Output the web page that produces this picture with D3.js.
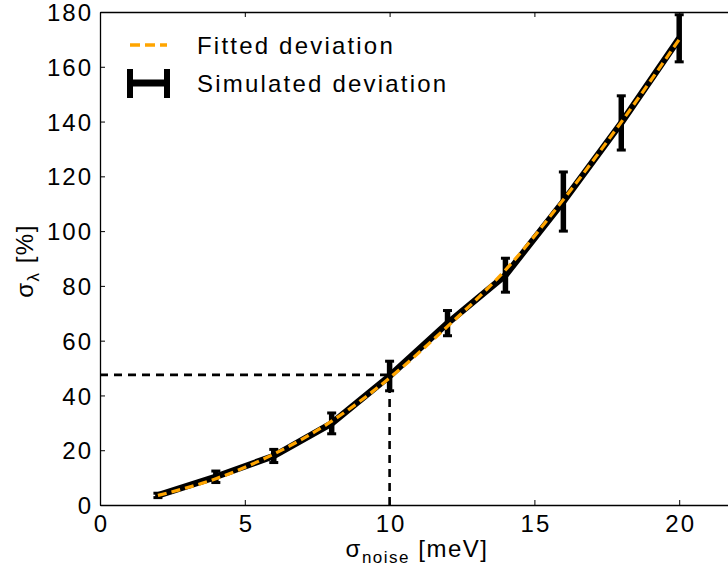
<!DOCTYPE html>
<html>
<head>
<meta charset="utf-8">
<script src="https://cdn.jsdelivr.net/npm/d3@7"></script>
<style>
  html, body { margin: 0; padding: 0; background: #fff; }
  svg text { font-family: "Liberation Sans", Arial, sans-serif; fill: #000; }
</style>
</head>
<body>
<svg id="chart" width="728" height="573"></svg>
<script>
// ---- data ----
const noiseLevels = [2, 4, 6, 8, 10, 12, 14, 16, 18, 20];
const simulatedDeviation = [3.5, 10.3, 17.9, 29.8, 47.1, 66.4, 83.9, 110.8, 139.5, 170.4];
const simulatedError = [0.8, 2.1, 2.4, 3.8, 5.4, 4.6, 6.2, 10.8, 9.9, 8.6];
const fittedDeviation = [3.5, 9.6, 18.6, 30.6, 46.4, 65.2, 85.8, 111.5, 139.8, 170.0];
const xTicks = [0, 5, 10, 15, 20];
const yTicks = [0, 20, 40, 60, 80, 100, 120, 140, 160, 180];
const markerX = [10];
const markerY = [47.5];
const legendLabels = ["Fitted deviation", "Simulated deviation"];

// ---- layout ----
const svg = d3.select("#chart");
const W = 728, H = 573;
const mLeft = 100, mTop = 12, mBottom = 505;
const pxPerUnit = 28.96;
const x = d3.scaleLinear().domain([0, 22]).range([mLeft, mLeft + 22 * pxPerUnit]);
const y = d3.scaleLinear().domain([0, 180]).range([mBottom, mTop]);
const mRight = x(22);
const fontSize = 24;
const ls = "2px";

svg.append("rect").attr("width", W).attr("height", H).attr("fill", "#fff");

const clip = svg.append("defs").append("clipPath").attr("id", "plotclip");
clip.append("rect").attr("x", mLeft).attr("y", mTop).attr("width", mRight - mLeft).attr("height", mBottom - mTop);

// axes (ticks inward)
const gx = svg.append("g").attr("transform", `translate(0,${mBottom})`)
  .call(d3.axisBottom(x).tickValues(xTicks).tickSizeInner(-5).tickSizeOuter(0).tickPadding(10));
const gxTop = svg.append("g").attr("transform", `translate(0,${mTop})`)
  .call(d3.axisTop(x).tickValues(xTicks).tickSizeInner(-5).tickSizeOuter(0).tickFormat(""));
const gy = svg.append("g").attr("transform", `translate(${mLeft},0)`)
  .call(d3.axisLeft(y).tickValues(yTicks).tickSizeInner(-5).tickSizeOuter(0).tickPadding(7));
const gyRight = svg.append("g").attr("transform", `translate(${mRight},0)`)
  .call(d3.axisRight(y).tickValues(yTicks).tickSizeInner(-5).tickSizeOuter(0).tickFormat(""));

[gx, gxTop, gy, gyRight].forEach(g => {
  g.select(".domain").attr("stroke", "#000").attr("stroke-width", 1.3);
  g.selectAll(".tick line").attr("stroke", "#000").attr("stroke-width", 1);
  g.selectAll(".tick text").attr("font-size", fontSize).attr("letter-spacing", ls)
    .attr("font-family", "Liberation Sans, Arial, sans-serif").attr("fill", "#000");
});
gx.selectAll(".tick text").attr("dy", "0.71em").attr("dx", 1);
gy.selectAll(".tick text").attr("dy", "0.36em");

const plot = svg.append("g").attr("clip-path", "url(#plotclip)");

// reference dashed lines
plot.append("line")
  .attr("x1", x(0)).attr("x2", x(markerX[0]))
  .attr("y1", y(markerY[0])).attr("y2", y(markerY[0]))
  .attr("stroke", "#000").attr("stroke-width", 2.6).attr("stroke-dasharray", "8,6");
plot.append("line")
  .attr("x1", x(markerX[0])).attr("x2", x(markerX[0]))
  .attr("y1", y(0)).attr("y2", y(markerY[0]))
  .attr("stroke", "#000").attr("stroke-width", 2.6).attr("stroke-dasharray", "8,6");

// simulated line
const simData = noiseLevels.map((n, i) => ({ x: n, y: simulatedDeviation[i], e: simulatedError[i] }));
plot.append("path").datum(simData)
  .attr("fill", "none").attr("stroke", "#000").attr("stroke-width", 6.5)
  .attr("stroke-linejoin", "round")
  .attr("d", d3.line().x(d => x(d.x)).y(d => y(d.y)));

// error bars
const eb = plot.selectAll(".eb").data(simData).enter().append("g");
eb.append("line")
  .attr("x1", d => x(d.x)).attr("x2", d => x(d.x))
  .attr("y1", d => y(d.y - d.e)).attr("y2", d => y(d.y + d.e))
  .attr("stroke", "#000").attr("stroke-width", 5.5);
eb.append("line")
  .attr("x1", d => x(d.x) - 4.5).attr("x2", d => x(d.x) + 4.5)
  .attr("y1", d => y(d.y + d.e)).attr("y2", d => y(d.y + d.e))
  .attr("stroke", "#000").attr("stroke-width", 3);
eb.append("line")
  .attr("x1", d => x(d.x) - 4.5).attr("x2", d => x(d.x) + 4.5)
  .attr("y1", d => y(d.y - d.e)).attr("y2", d => y(d.y - d.e))
  .attr("stroke", "#000").attr("stroke-width", 3);

// fitted line
const fitData = noiseLevels.map((n, i) => ({ x: n, y: fittedDeviation[i] }));
plot.append("path").datum(fitData)
  .attr("fill", "none").attr("stroke", "#FFA500").attr("stroke-width", 3.2)
  .attr("stroke-dasharray", "9,5")
  .attr("d", d3.line().curve(d3.curveMonotoneX).x(d => x(d.x)).y(d => y(d.y)));

// legend
const lg = svg.append("g");
lg.append("line").attr("x1", 130).attr("x2", 167).attr("y1", 45).attr("y2", 45)
  .attr("stroke", "#FFA500").attr("stroke-width", 3.5).attr("stroke-dasharray", "10,5");
lg.append("line").attr("x1", 128).attr("x2", 169).attr("y1", 83).attr("y2", 83)
  .attr("stroke", "#000").attr("stroke-width", 7);
lg.append("line").attr("x1", 130).attr("x2", 130).attr("y1", 69).attr("y2", 98)
  .attr("stroke", "#000").attr("stroke-width", 6);
lg.append("line").attr("x1", 167).attr("x2", 167).attr("y1", 69).attr("y2", 98)
  .attr("stroke", "#000").attr("stroke-width", 6);
lg.append("text").attr("x", 197).attr("y", 54).attr("font-size", fontSize).attr("letter-spacing", "2.2px").text(legendLabels[0]);
lg.append("text").attr("x", 197).attr("y", 92).attr("font-size", fontSize).attr("letter-spacing", "2.2px").text(legendLabels[1]);

// axis labels
const xl = svg.append("text").attr("x", 417).attr("y", 557).attr("text-anchor", "middle")
  .attr("font-size", fontSize).attr("letter-spacing", "1.5px");
xl.append("tspan").text("σ");
xl.append("tspan").attr("font-size", 17).attr("dy", 6).text("noise");
xl.append("tspan").attr("dy", -6).text(" [meV]");

const yl = svg.append("text").attr("transform", "translate(33,261) rotate(-90)").attr("text-anchor", "middle")
  .attr("font-size", fontSize).attr("letter-spacing", "1.5px");
yl.append("tspan").text("σ");
yl.append("tspan").attr("font-size", 17).attr("dy", 6).text("λ");
yl.append("tspan").attr("dy", -6).text(" [%]");
</script>
</body>
</html>
